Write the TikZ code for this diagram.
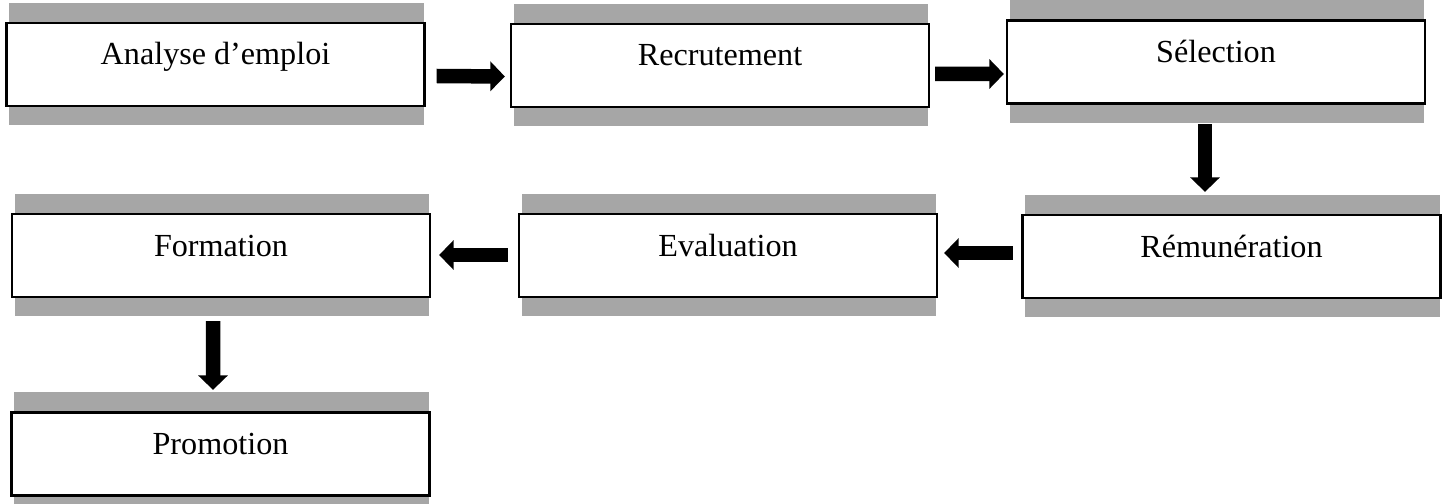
\documentclass[tikz,border=0pt]{standalone}
\usepackage{fontspec}
\setmainfont{Liberation Serif}
\usepackage{tikz}
\usepackage{xcolor}
\usetikzlibrary{positioning,arrows.meta,backgrounds}

\definecolor{shadowgray}{HTML}{A6A6A6}

\begin{document}
\begin{tikzpicture}[
    stage/.style={
        rectangle,
        draw=black,
        line width=1.3pt,
        fill=white,
        minimum width=8.36cm,
        inner sep=0pt,
        text height=0.84cm,
        text depth=0.82cm,
        align=center,
        font=\fontsize{18.3}{22}\selectfont
    },
    blockarrow/.style={
        line width=0.29cm,
        -{Triangle[length=0.29cm, width=0.58cm]}
    }
]

    \useasboundingbox (0,0) rectangle (28.96,-10.08);

    % --- STAGES ---
    % Top row (left to right)
    \node [stage] (analyse) at (4.31,-1.29) {Analyse d’emploi};
    \node [stage] (recrutement) at (14.40,-1.31) {Recrutement};
    \node [stage] (selection) at (24.32,-1.24) {Sélection};

    % Middle row (right to left)
    \node [stage] (remuneration) at (24.63,-5.13) {Rémunération};
    \node [stage] (evaluation) at (14.56,-5.11) {Evaluation};
    \node [stage] (formation) at (4.42,-5.11) {Formation};

    % Bottom row
    \node [stage] (promotion) at (4.41,-9.08) {Promotion};

    % --- SHADOWS ---
    \begin{scope}[on background layer]
        \foreach \n in {analyse,recrutement,selection,remuneration,evaluation,formation,promotion}
            \fill [shadowgray] ([shift={(0.08,0.38)}]\n.north west) rectangle ([shift={(-0.04,-0.36)}]\n.south east);
    \end{scope}

    % --- ARROWS ---
    % Analyse -> Recrutement -> Selection
    \draw [blockarrow] ([shift={(0.22,-0.23)}]analyse.east) -- ([shift={(-0.10,-0.22)}]recrutement.west);
    \draw [blockarrow] ([shift={(0.10,-0.17)}]recrutement.east) -- ([shift={(-0.04,-0.24)}]selection.west);

    % Selection -> Remuneration
    \draw [blockarrow] ([shift={(-0.22,-0.39)}]selection.south) -- ([shift={(-0.53,0.44)}]remuneration.north);

    % Remuneration -> Evaluation -> Formation
    \draw [blockarrow] ([shift={(-0.17,0.07)}]remuneration.west) -- ([shift={(0.12,0.05)}]evaluation.east);
    \draw [blockarrow] ([shift={(-0.20,0.01)}]evaluation.west) -- ([shift={(0.16,0.01)}]formation.east);

    % Formation -> Promotion
    \draw [blockarrow] ([shift={(-0.16,-0.46)}]formation.south) -- ([shift={(-0.15,0.43)}]promotion.north);

\end{tikzpicture}
\end{document}
